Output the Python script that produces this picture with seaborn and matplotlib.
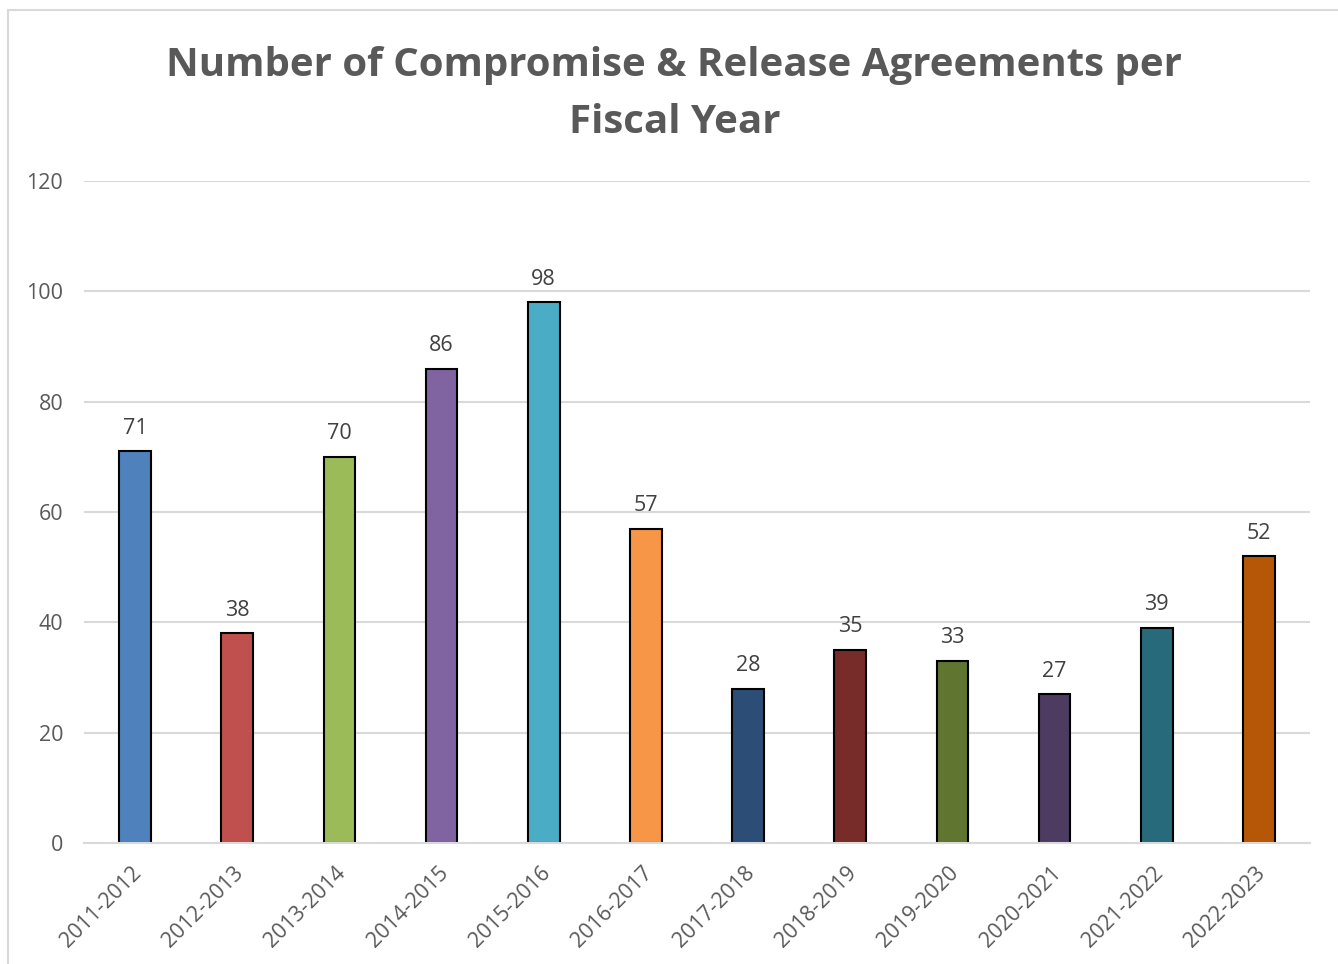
import matplotlib
matplotlib.use("Agg")
import matplotlib.pyplot as plt
import matplotlib.transforms as mtransforms
import seaborn as sns
import pandas as pd
from matplotlib.patches import Rectangle

# Fiscal-year counts of Compromise & Release agreements
fiscal_years = ["2011-2012", "2012-2013", "2013-2014", "2014-2015", "2015-2016",
                "2016-2017", "2017-2018", "2018-2019", "2019-2020", "2020-2021",
                "2021-2022", "2022-2023"]
agreements = [71, 38, 70, 86, 98, 57, 28, 35, 33, 27, 39, 52]
bar_colors = ["#4F81BD", "#C0504D", "#9BBB59", "#8064A2", "#4BACC6", "#F79646",
              "#2C4D75", "#772C2A", "#5F7530", "#4D3B62", "#276A7C", "#B65708"]
y_ticks = [0, 20, 40, 60, 80, 100, 120]

sns.set_theme(style="white")
plt.rcParams["font.family"] = ["Open Sans", "DejaVu Sans"]

df = pd.DataFrame({"year": fiscal_years, "count": agreements})

fig = plt.figure(figsize=(13.38, 9.64), dpi=100)
ax = fig.add_axes([0.0628, 0.1255, 0.9162, 0.6867])

sns.barplot(data=df, x="year", y="count", hue="year", palette=bar_colors,
            legend=False, width=0.31, edgecolor="black", linewidth=1.5,
            saturation=1, ax=ax)

ax.set_xlim(-0.5, len(fiscal_years) - 0.5)
ax.set_ylim(0, 120)
ax.set_yticks(y_ticks)
ax.yaxis.grid(True, color="#D9D9D9", linewidth=1.5)
ax.set_axisbelow(True)
for side in ["left", "right", "top"]:
    ax.spines[side].set_visible(False)
ax.spines["bottom"].set_color("#D9D9D9")
ax.spines["bottom"].set_linewidth(1.5)

ax.set_xlabel("")
ax.set_ylabel("")
ax.tick_params(axis="y", length=0, pad=15, labelsize=15.5, labelcolor="#595959")
ax.tick_params(axis="x", length=0, pad=14, labelsize=15.5, labelcolor="#595959")
shift = mtransforms.ScaledTranslation(-4 / 100, 0, fig.dpi_scale_trans)
for lbl in ax.get_xticklabels():
    lbl.set_rotation(45)
    lbl.set_ha("right")
    lbl.set_rotation_mode("anchor")
    lbl.set_transform(lbl.get_transform() + shift)

for i, v in enumerate(agreements):
    ax.annotate(str(v), (i, v), xytext=(0, 9), textcoords="offset points",
                ha="center", va="bottom", fontsize=15.5, color="#404040")

fig.text(0.504, 0.903, "Number of Compromise & Release Agreements per\nFiscal Year",
         ha="center", va="center", fontsize=29, fontweight="bold",
         color="#595959", linespacing=1.6)

# chart frame
fig.patches.append(Rectangle((8 / 1338, -0.01), 1.02, 1 - 10 / 964 + 0.01,
                             transform=fig.transFigure, fill=False,
                             edgecolor="#D9D9D9", linewidth=1.5))

fig.savefig("out.png", dpi=100)
